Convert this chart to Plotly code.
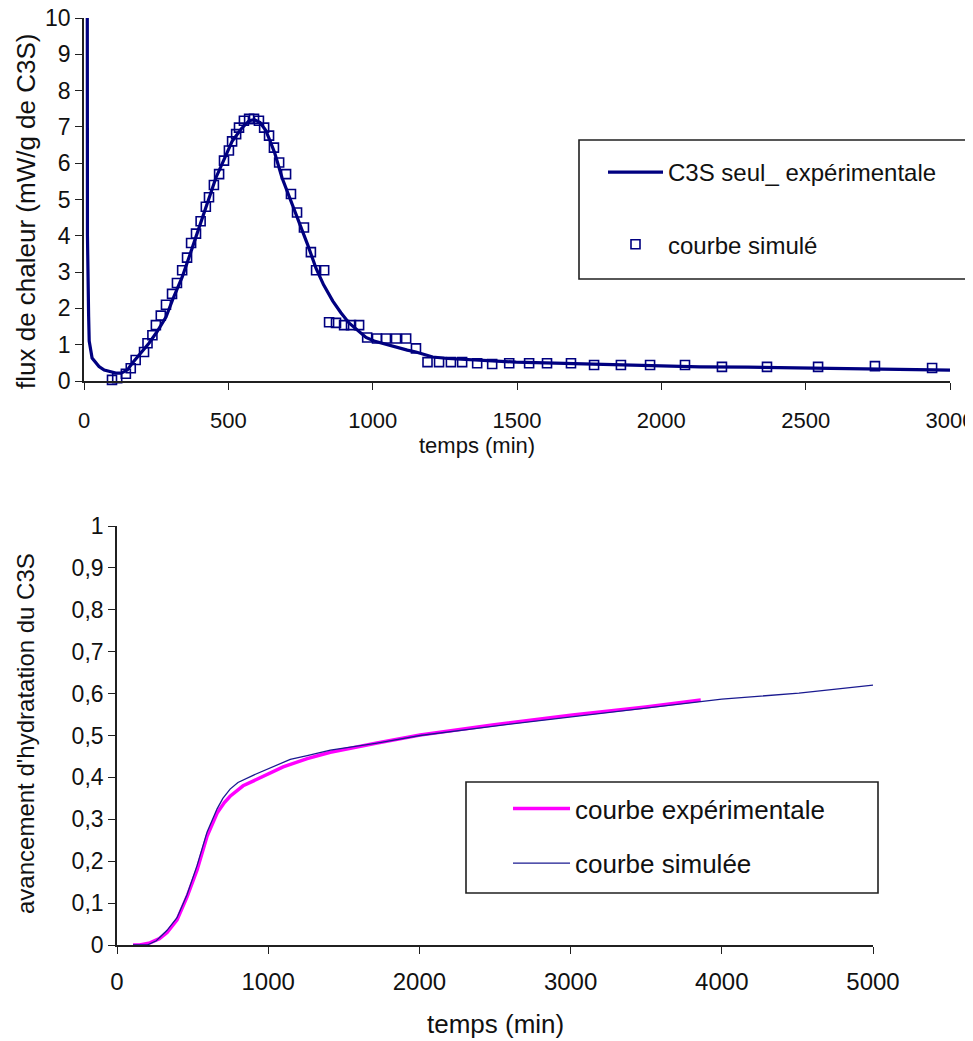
import plotly.graph_objects as go

# =====================================================
# DATA - flux de chaleur (top chart)
# =====================================================

t_flux_exp = [11, 12, 16, 18, 28, 40, 52, 70, 90, 110, 130, 150, 167, 190, 225,
              255, 284, 310, 340, 370, 398, 430, 457, 485, 513, 545, 572, 590,
              610, 630, 660, 686, 715, 745, 775, 804, 830, 862, 890, 918, 950,
              977, 1005, 1033, 1060, 1092, 1120, 1150, 1180, 1208, 1260, 1323,
              1400, 1497, 1600, 1729, 1850, 1961, 2134, 2300, 2481, 2700, 2850,
              3000]
flux_exp = [14, 4.0, 1.8, 1.1, 0.63, 0.5, 0.4, 0.3, 0.25, 0.22, 0.22, 0.3, 0.49,
            0.7, 1.04, 1.38, 1.76, 2.3, 2.86, 3.55, 4.2, 4.95, 5.6, 6.1, 6.6,
            6.95, 7.17, 7.2, 7.12, 6.9, 6.3, 5.6, 5.0, 4.4, 3.75, 3.1, 2.65, 2.2,
            1.88, 1.6, 1.38, 1.2, 1.1, 1.04, 0.97, 0.9, 0.85, 0.8, 0.72, 0.66,
            0.62, 0.6, 0.56, 0.52, 0.5, 0.49, 0.46, 0.44, 0.39, 0.38, 0.36, 0.34,
            0.32, 0.3]

t_flux_sim = [97, 115, 145, 162, 179, 208, 220, 237, 249, 266, 284, 305, 322,
              340, 357, 371, 388, 404, 422, 433, 450, 468, 485, 502, 513, 527,
              537, 554, 572, 589, 606, 624, 641, 658, 676, 700, 717, 738, 762,
              786, 804, 832, 849, 873, 901, 925, 953, 981, 1015, 1046, 1081,
              1116, 1150, 1190, 1230, 1271, 1310, 1362, 1414, 1473, 1542, 1604,
              1687, 1767, 1860, 1961, 2082, 2210, 2366, 2543, 2740, 2938]
flux_sim = [0.03, 0.08, 0.2, 0.35, 0.58, 0.8, 1.04, 1.26, 1.54, 1.8, 2.1, 2.4,
            2.7, 3.05, 3.4, 3.8, 4.06, 4.4, 4.8, 5.06, 5.4, 5.7, 6.07, 6.35,
            6.6, 6.8, 6.98, 7.17, 7.22, 7.22, 7.17, 6.98, 6.76, 6.43, 6.02, 5.7,
            5.15, 4.64, 4.23, 3.55, 3.05, 3.05, 1.62, 1.6, 1.54, 1.54, 1.54,
            1.2, 1.17, 1.17, 1.17, 1.17, 0.9, 0.52, 0.52, 0.52, 0.52, 0.49,
            0.47, 0.49, 0.49, 0.49, 0.49, 0.44, 0.44, 0.44, 0.44, 0.39, 0.39,
            0.39, 0.41, 0.36]

# =====================================================
# DATA - avancement d'hydratation (bottom chart)
# =====================================================

t_av_exp = [106, 150, 218, 280, 331, 397, 463, 530, 596, 662, 710, 748, 834,
            947, 1099, 1258, 1411, 1720, 2005, 2483, 3013, 3497, 3861]
av_exp = [0, 0, 0.005, 0.015, 0.03, 0.06, 0.115, 0.18, 0.26, 0.315, 0.34, 0.355,
          0.38, 0.40, 0.425, 0.445, 0.46, 0.482, 0.501, 0.525, 0.549, 0.568,
          0.585]

t_av_sim = [106, 200, 260, 331, 397, 463, 530, 596, 662, 700, 748, 800, 900,
            993, 1146, 1258, 1411, 1720, 2005, 2483, 3013, 3497, 4000, 4510,
            5000]
av_sim = [0, 0, 0.01, 0.035, 0.065, 0.12, 0.19, 0.27, 0.325, 0.35, 0.372,
          0.388, 0.405, 0.42, 0.443, 0.452, 0.465, 0.482, 0.50, 0.522, 0.545,
          0.565, 0.587, 0.601, 0.62]

# tick labels
flux_xticks = [0, 500, 1000, 1500, 2000, 2500, 3000]
flux_yticks = [0, 1, 2, 3, 4, 5, 6, 7, 8, 9, 10]
av_xticks = [0, 1000, 2000, 3000, 4000, 5000]
av_yticks = [0, 0.1, 0.2, 0.3, 0.4, 0.5, 0.6, 0.7, 0.8, 0.9, 1]
av_yticktext = ["0", "0,1", "0,2", "0,3", "0,4", "0,5", "0,6", "0,7", "0,8",
                "0,9", "1"]

# =====================================================
# STYLE
# =====================================================

# the page body keeps its default 8px margin: shift everything by that much
OFF = 8
W, H = 973 - OFF, 1041 - OFF
FONT = "Liberation Sans, Arial, sans-serif"
NAVY = "#000080"
AXIS = "#202020"


def px(x):
    # window pixel -> paper x
    return (x - OFF) / W


def py(y):
    # window pixel -> paper y
    return 1 - (y - OFF) / H


fig = go.Figure()

# -----------------------------------------------------
# top chart
# -----------------------------------------------------

fig.add_trace(go.Scatter(
    x=t_flux_exp, y=flux_exp,
    mode="lines",
    line=dict(color=NAVY, width=3.2),
    name="C3S seul_ expérimentale",
    xaxis="x", yaxis="y",
    legend="legend", legendgroup="a"
))

fig.add_trace(go.Scatter(
    x=t_flux_sim, y=flux_sim,
    mode="markers",
    marker=dict(symbol="square-open", size=9, color=NAVY,
                line=dict(width=1.6, color=NAVY)),
    cliponaxis=False,
    name="courbe simulé",
    xaxis="x", yaxis="y",
    legend="legend", legendgroup="b"
))

# -----------------------------------------------------
# bottom chart
# -----------------------------------------------------

fig.add_trace(go.Scatter(
    x=t_av_exp, y=av_exp,
    mode="lines",
    line=dict(color="#FF00FF", width=3.5),
    name="courbe expérimentale",
    xaxis="x2", yaxis="y2",
    legend="legend2", legendgroup="c"
))

fig.add_trace(go.Scatter(
    x=t_av_sim, y=av_sim,
    mode="lines",
    line=dict(color="#1a1a90", width=1.3),
    name="courbe simulée",
    xaxis="x2", yaxis="y2",
    legend="legend2", legendgroup="d"
))

axis_common = dict(
    showline=True, linecolor=AXIS, linewidth=1.6,
    ticks="outside", tickcolor=AXIS, ticklen=7, tickwidth=1.4,
    showgrid=False, zeroline=False, fixedrange=True, automargin=False,
    ticklabeloverflow="allow",
    tickfont=dict(family=FONT, color="#111", size=22)
)

fig.update_layout(
    width=W, height=H,
    margin=dict(l=0, r=0, t=0, b=0),
    paper_bgcolor="white", plot_bgcolor="white",
    font=dict(family=FONT, color="#111"),
    xaxis=dict(axis_common, domain=[px(84), px(950)], range=[0, 3000],
               anchor="y", tickvals=flux_xticks, ticklabelstandoff=12),
    yaxis=dict(axis_common, domain=[py(381), py(18)], range=[0, 10],
               anchor="x", tickvals=flux_yticks,
               tickfont=dict(family=FONT, color="#111", size=23)),
    xaxis2=dict(axis_common, domain=[px(117), px(873)], range=[0, 5000],
                anchor="y2", tickvals=av_xticks, ticklabelstandoff=7,
                tickfont=dict(family=FONT, color="#111", size=24)),
    yaxis2=dict(axis_common, domain=[py(945), py(526)], range=[0, 1],
                anchor="x2", tickvals=av_yticks, ticktext=av_yticktext,
                tickfont=dict(family=FONT, color="#111", size=23)),
    legend=dict(x=px(603), y=py(150), xanchor="left", yanchor="top",
                bgcolor="rgba(0,0,0,0)", itemwidth=55, tracegroupgap=38,
                font=dict(family=FONT, size=24, color="#111")),
    legend2=dict(x=px(508), y=py(785), xanchor="left", yanchor="top",
                 bgcolor="rgba(0,0,0,0)", itemwidth=57, tracegroupgap=18,
                 font=dict(family=FONT, size=26, color="#111")),
    shapes=[
        dict(type="rect", xref="paper", yref="paper",
             x0=px(579), x1=px(967), y0=py(279), y1=py(140),
             line=dict(color=AXIS, width=1.6)),
        dict(type="rect", xref="paper", yref="paper",
             x0=px(466), x1=px(878), y0=py(893), y1=py(782),
             line=dict(color=AXIS, width=1.6)),
    ],
    annotations=[
        dict(text="temps (min)", xref="paper", yref="paper",
             x=px(477), y=py(445), xanchor="center", yanchor="middle",
             showarrow=False,
             font=dict(family=FONT, size=22, color="#111")),
        dict(text="flux de chaleur (mW/g de C3S)", xref="paper", yref="paper",
             x=px(26), y=py(212), xanchor="center", yanchor="middle",
             textangle=-90, showarrow=False,
             font=dict(family=FONT, size=26, color="#111")),
        dict(text="temps (min)", xref="paper", yref="paper",
             x=px(495), y=py(1024), xanchor="center", yanchor="middle",
             showarrow=False,
             font=dict(family=FONT, size=26, color="#111")),
        dict(text="avancement d'hydratation du C3S", xref="paper",
             yref="paper", x=px(25), y=py(734), xanchor="center",
             yanchor="middle", textangle=-90, showarrow=False,
             font=dict(family=FONT, size=24, color="#111")),
    ],
)

fig.write_html("out.html")
